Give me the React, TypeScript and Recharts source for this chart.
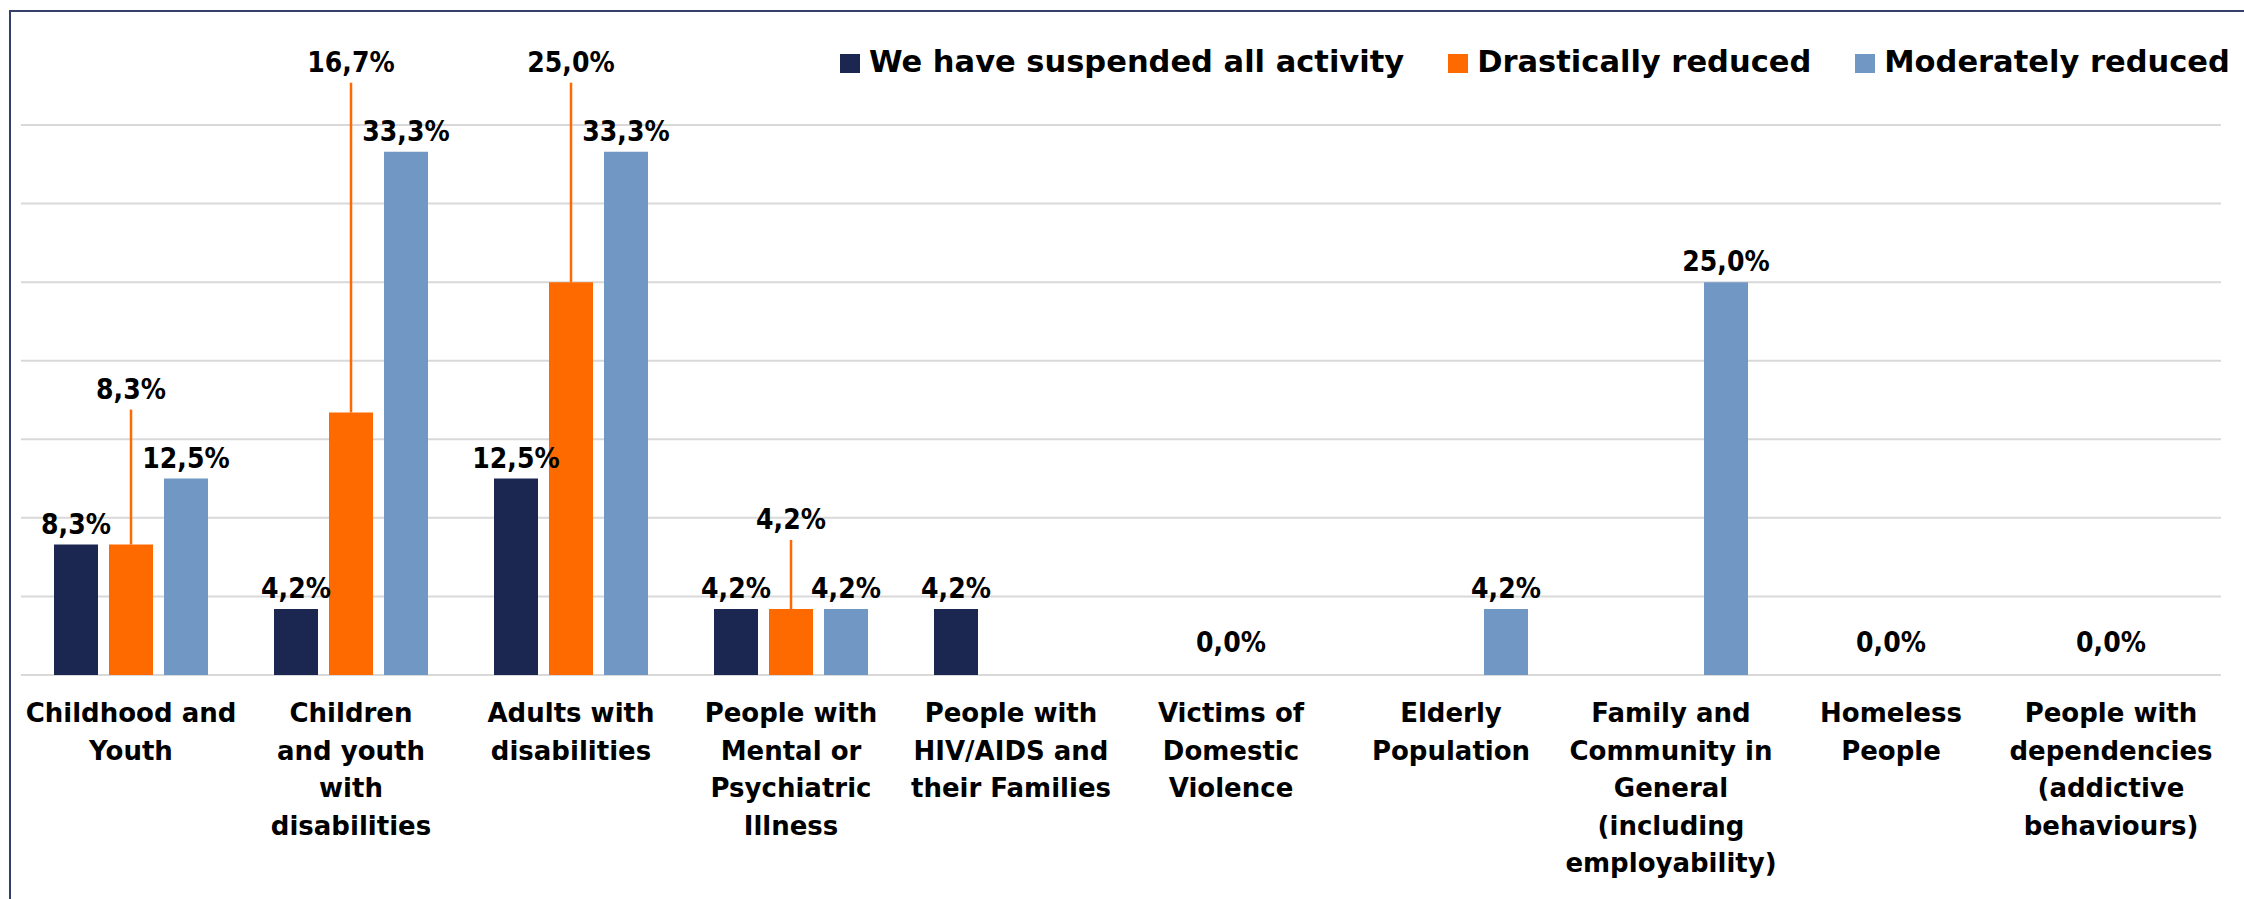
import React from 'react';
import { BarChart, Bar, XAxis, YAxis, CartesianGrid, LabelList } from 'recharts';

// categories, with the line breaks used in the original labels
const categories: string[] = [
  'Childhood and\nYouth',
  'Children\nand youth\nwith\ndisabilities',
  'Adults with\ndisabilities',
  'People with\nMental or\nPsychiatric\nIllness',
  'People with\nHIV/AIDS and\ntheir Families',
  'Victims of\nDomestic\nViolence',
  'Elderly\nPopulation',
  'Family and\nCommunity in\nGeneral\n(including\nemployability)',
  'Homeless\nPeople',
  'People with\ndependencies\n(addictive\nbehaviours)',
];

// % of organisations, null = no value shown
const suspended: (number | null)[] = [8.3, 4.2, 12.5, 4.2, 4.2, null, null, null, null, null];
const drastically: (number | null)[] = [8.3, 16.7, 25.0, 4.2, null, 0, null, null, 0, 0];
const moderately: (number | null)[] = [12.5, 33.3, 33.3, 4.2, null, null, 4.2, 25.0, null, null];

const yTicks: number[] = [0, 5, 10, 15, 20, 25, 30, 35];

const seriesNames = ['We have suspended all activity', 'Drastically reduced', 'Moderately reduced'];

const NAVY = '#1b2651';
const ORANGE = '#ff6a00';
const BLUE = '#7197c4';
const FONT = '"DejaVu Sans", sans-serif';

const data = categories.map((name, i) => ({
  name,
  suspended: suspended[i],
  drastically: drastically[i],
  moderately: moderately[i],
}));

const fmt = (v: number) => `${v.toFixed(1).replace('.', ',')}%`;

const ValueText = ({ x, y, value }: { x: number; y: number; value: number }) => (
  <text
    transform={`translate(${x},${y}) scale(0.9,1)`}
    textAnchor="middle"
    fontFamily={FONT}
    fontWeight="bold"
    fontSize={28}
    fill="#000"
  >
    {fmt(value)}
  </text>
);

const renderTopLabel = (props: any) => {
  const { value } = props;
  if (value == null || value === 0) return null;
  const vb = props.viewBox ?? props;
  return <ValueText x={vb.x + vb.width / 2} y={vb.y - 11} value={value} />;
};

// orange labels sit above the group with a leader line down to the bar
const renderCalloutLabel = (props: any) => {
  const { value, index } = props;
  if (value == null || value === 0) return null;
  const vb = props.viewBox ?? props;
  const cx = vb.x + vb.width / 2;
  const base = vb.y + vb.height;
  const pxPerUnit = vb.height / value;
  const top = Math.max(value, suspended[index] ?? 0, moderately[index] ?? 0);
  const labelY = base - top * pxPerUnit - 80;
  return (
    <g>
      <line x1={cx} x2={cx} y1={labelY + 11} y2={vb.y} stroke={ORANGE} strokeWidth={2.5} />
      <ValueText x={cx} y={labelY} value={value} />
    </g>
  );
};

// category text below the axis; the 0,0% entries of the orange series are shown above it
const CategoryTick = (props: any) => {
  const { x, y, payload, index } = props;
  const lines = String(payload.value).split('\n');
  return (
    <g>
      {drastically[index] === 0 && <ValueText x={x} y={y - 23} value={0} />}
      <text x={x} y={y + 47} textAnchor="middle" fontFamily={FONT} fontWeight="bold" fontSize={26} fill="#000">
        {lines.map((line, i) => (
          <tspan key={i} x={x} dy={i === 0 ? 0 : 37.5}>
            {line}
          </tspan>
        ))}
      </text>
    </g>
  );
};

const ChartLegend = () => {
  const colors = [NAVY, ORANGE, BLUE];
  return (
    <div
      style={{
        position: 'absolute',
        left: 840,
        top: 47,
        display: 'flex',
        alignItems: 'flex-start',
        fontFamily: FONT,
        fontWeight: 'bold',
        fontSize: 30.5,
        lineHeight: '30px',
      }}
    >
      {seriesNames.map((n, i) => (
        <div key={n} style={{ display: 'flex', alignItems: 'flex-start', marginLeft: i === 0 ? 0 : 44 }}>
          <span style={{ display: 'inline-block', width: 20, height: 19, marginTop: 7, background: colors[i] }} />
          <span style={{ marginLeft: 9, color: '#000', whiteSpace: 'nowrap' }}>{n}</span>
        </div>
      ))}
    </div>
  );
};

const App: React.FC = () => {
  return (
    <div style={{ position: 'absolute', left: 0, top: 0, width: 2244, height: 899, background: '#fff', overflow: 'hidden' }}>
      <div
        style={{
          position: 'absolute',
          left: 9,
          top: 10,
          width: 2400,
          height: 1000,
          borderTop: '2px solid #34406a',
          borderLeft: '2px solid #34406a',
        }}
      />
      <div style={{ position: 'absolute', left: 0, top: 0 }}>
        <BarChart
          width={2244}
          height={899}
          data={data}
          margin={{ top: 125, right: 23, left: 21, bottom: 0 }}
          barCategoryGap="15%"
          barGap={11}
        >
          <CartesianGrid vertical={false} stroke="#d9d9d9" strokeWidth={2} />
          <XAxis
            dataKey="name"
            axisLine={false}
            tickLine={false}
            tickSize={0}
            tickMargin={0}
            height={224}
            interval={0}
            tick={<CategoryTick />}
          />
          <YAxis hide domain={[0, 35]} ticks={yTicks} />
          <Bar dataKey="suspended" name={seriesNames[0]} fill={NAVY} isAnimationActive={false}>
            <LabelList dataKey="suspended" content={renderTopLabel} />
          </Bar>
          <Bar dataKey="drastically" name={seriesNames[1]} fill={ORANGE} isAnimationActive={false}>
            <LabelList dataKey="drastically" content={renderCalloutLabel} />
          </Bar>
          <Bar dataKey="moderately" name={seriesNames[2]} fill={BLUE} isAnimationActive={false}>
            <LabelList dataKey="moderately" content={renderTopLabel} />
          </Bar>
        </BarChart>
      </div>
      <ChartLegend />
    </div>
  );
};

export default App;
